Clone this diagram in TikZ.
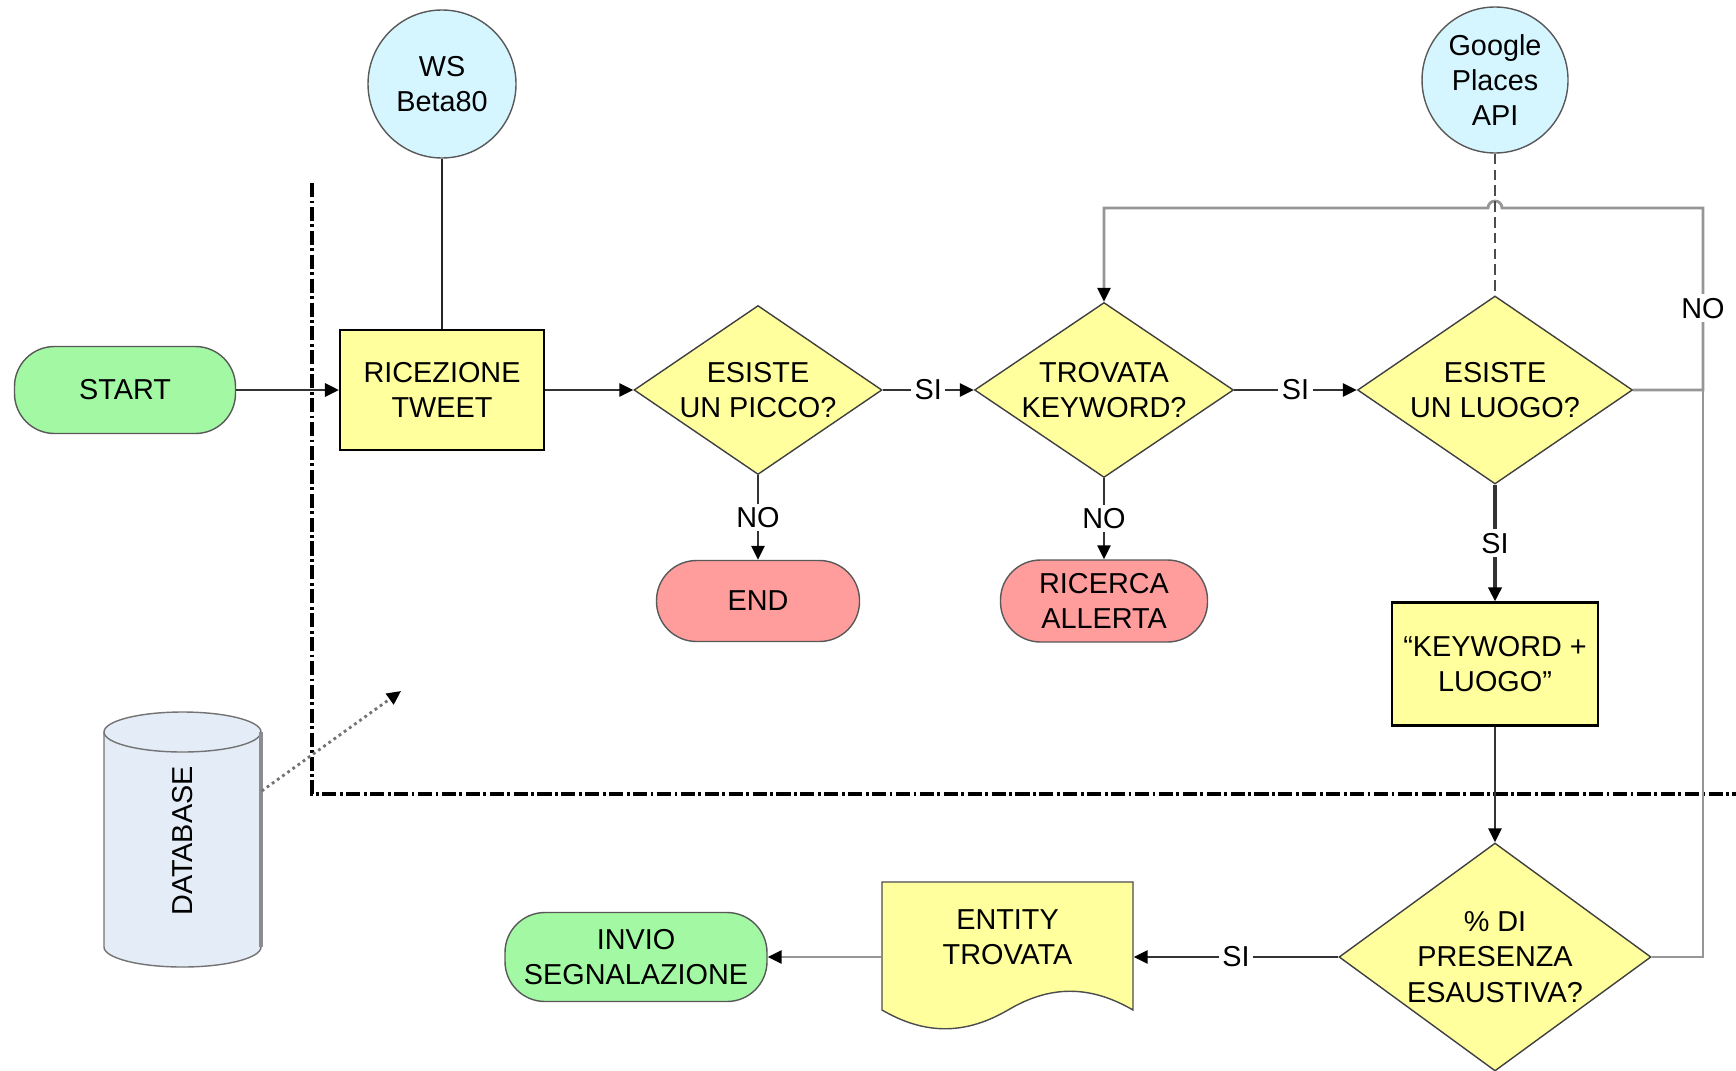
\documentclass[tikz,border=0pt]{standalone}
\usepackage{fontspec}
\setmainfont{Liberation Sans}
\usetikzlibrary{shapes.geometric,arrows.meta}

\definecolor{termgreen}{RGB}{163,248,163}
\definecolor{termred}{RGB}{255,157,157}
\definecolor{procyellow}{RGB}{255,255,157}
\definecolor{extcyan}{RGB}{214,246,255}
\definecolor{dbblue}{RGB}{228,236,247}
\definecolor{loopgray}{RGB}{150,150,150}

\tikzset{
  terminal/.style={rectangle, rounded corners=0.4cm, draw=black!65, fill=#1, align=center, inner sep=0pt},
  process/.style={rectangle, draw=black, line width=0.6pt, fill=procyellow, align=center},
  decision/.style={diamond, draw=black!75, fill=procyellow, align=center, inner sep=0pt},
  service/.style={circle, draw=black!65, fill=extcyan, align=center, inner sep=0pt},
  flow/.style={draw=black!80, line width=0.8pt, -{Triangle[length=1.4mm,width=1.3mm,color=black]}},
  answer/.style={fill=white, inner sep=1pt},
}

\begin{document}
\begin{tikzpicture}[font=\fontsize{8.2}{10}\selectfont]
    \useasboundingbox (0,0) rectangle (17.36,10.70);

    % Boundary
    \draw[line width=0.9pt, dash pattern=on 4pt off 1pt on 0.8pt off 1pt] (3.12,8.87) -- (3.12,2.76) -- (17.36,2.76);

    % Database
    \filldraw[fill=dbblue, draw=black!55] (1.04,3.38) arc[start angle=180, end angle=0, x radius=0.785, y radius=0.2]
        -- (2.61,1.23) arc[start angle=0, end angle=-180, x radius=0.785, y radius=0.2] -- cycle;
    \draw[black!55] (1.04,3.38) arc[start angle=180, end angle=360, x radius=0.785, y radius=0.2];
    \draw[black!45, line width=1pt] (2.61,3.38) -- (2.61,1.23);
    \node[minimum width=1.57cm, minimum height=2.4cm] (db) at (1.825,2.29) {\rotatebox{90}{DATABASE}};
    \coordinate (dbarrow) at (4.01,3.79);
    \draw[black!55, densely dotted, line width=0.8pt, -{Triangle[length=1.4mm,width=1.3mm,color=black]}] ([yshift=0.5cm]db.east) -- (dbarrow);

    % Entity document
    \filldraw[fill=procyellow, draw=black!70] (8.82,1.88) -- (11.33,1.88) -- (11.33,0.60)
        .. controls (10.9,0.85) and (10.5,0.85) .. (10.08,0.60)
        .. controls (9.65,0.35) and (9.25,0.35) .. (8.82,0.60) -- cycle;

    % Nodes
    \node[service, minimum size=1.48cm] (ws) at (4.42,9.86) {WS\\Beta80};
    \node[service, minimum size=1.46cm] (gpa) at (14.95,9.90) {Google\\Places\\API};
    \node[terminal=termgreen, minimum width=2.21cm, minimum height=0.87cm] (start) at (1.25,6.80) {START};
    \node[process, minimum width=2.04cm, minimum height=1.20cm] (tweet) at (4.42,6.80) {RICEZIONE\\TWEET};
    \node[decision, minimum width=2.48cm, minimum height=1.69cm, aspect=1.47] (picco) at (7.58,6.80) {ESISTE\\UN PICCO?};
    \node[decision, minimum width=2.59cm, minimum height=1.75cm, aspect=1.48] (keyword) at (11.04,6.80) {TROVATA\\KEYWORD?};
    \node[decision, minimum width=2.75cm, minimum height=1.88cm, aspect=1.46] (luogo) at (14.95,6.80) {ESISTE\\UN LUOGO?};
    \node[terminal=termred, minimum width=2.03cm, minimum height=0.81cm] (end) at (7.58,4.69) {END};
    \node[terminal=termred, minimum width=2.07cm, minimum height=0.82cm] (allerta) at (11.04,4.69) {RICERCA\\ALLERTA};
    \node[process, minimum width=2.06cm, minimum height=1.23cm] (kwluogo) at (14.95,4.06) {“KEYWORD +\\LUOGO”};
    \node[decision, minimum width=3.12cm, minimum height=2.28cm, aspect=1.37] (presenza) at (14.95,1.13) {\% DI\\PRESENZA\\ESAUSTIVA?};
    \node[minimum width=2.51cm, align=center] (entity) at (10.075,1.33) {ENTITY\\TROVATA};
    \node[terminal=termgreen, minimum width=2.62cm, minimum height=0.89cm] (invio) at (6.36,1.13) {INVIO\\SEGNALAZIONE};

    % Connectors
    \draw[black!85, line width=0.7pt] (ws) -- (tweet);
    \draw[flow] (start) -- (tweet);
    \draw[flow] (tweet) -- (picco);
    \draw[flow] (picco) -- node[answer] {SI} (keyword);
    \draw[flow] (keyword) -- node[answer] {SI} (luogo);
    \draw[flow] (picco) -- node[answer] {NO} (end);
    \draw[flow] (keyword) -- node[answer] {NO} (allerta);
    \draw[flow, line width=1.2pt] (luogo) -- node[answer] {SI} (kwluogo);
    \draw[flow] (kwluogo) -- (presenza);
    \draw[flow] (presenza.west) -- node[answer] {SI} (presenza.west -| entity.east);
    \draw[flow, draw=loopgray] (invio.east -| entity.west) -- (invio.east);

    % Loop back
    \coordinate (loopR) at (17.03,8.62);
    \draw[flow, draw=loopgray] (luogo.east) -- (luogo.east -| loopR) -- node[answer, pos=0.45] {NO} (loopR)
        -- ([xshift=0.07cm]gpa.south |- loopR) arc[start angle=0, end angle=180, radius=0.07]
        -- (keyword.north |- loopR) -- (keyword.north);
    \draw[loopgray, line width=0.8pt] (presenza.east) -- (presenza.east -| loopR) -- (luogo.east -| loopR);
    \draw[black!70, line width=0.7pt, dash pattern=on 3pt off 1.5pt] (gpa) -- (luogo);
\end{tikzpicture}
\end{document}
